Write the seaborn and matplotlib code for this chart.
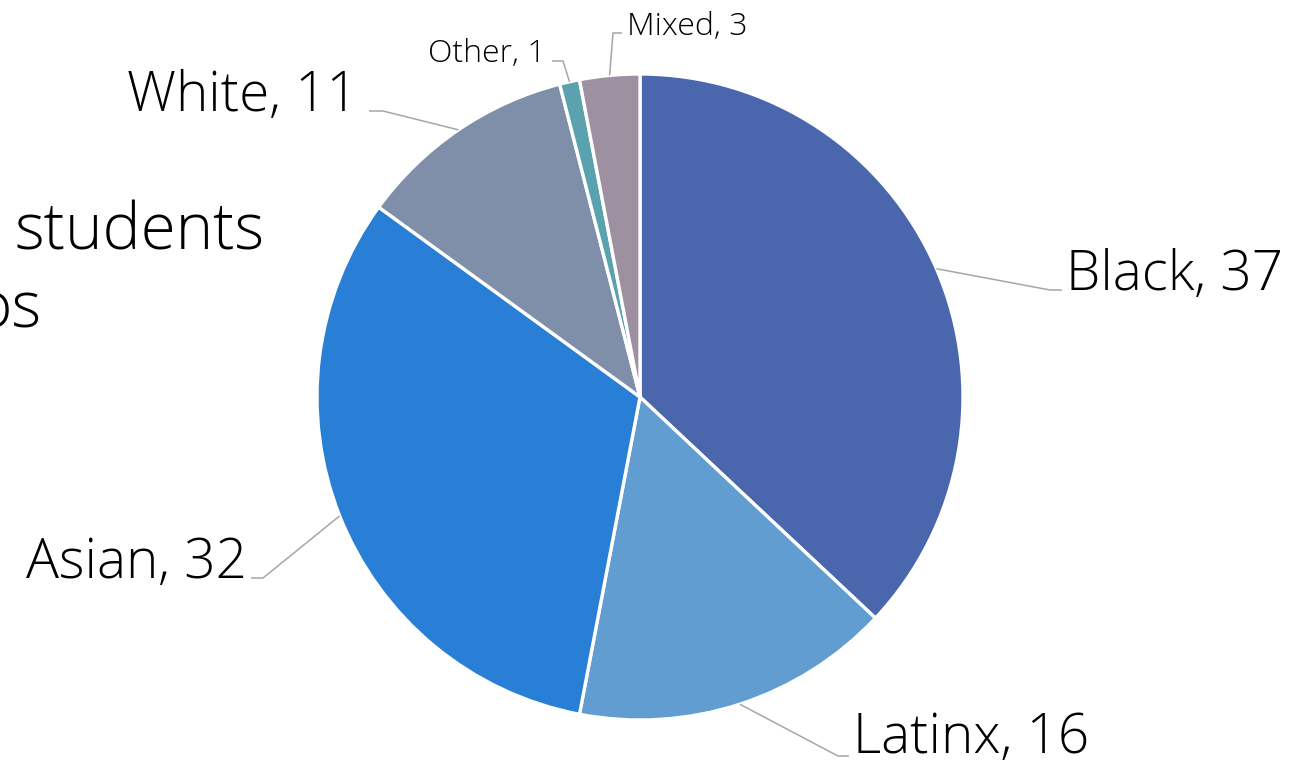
import matplotlib
matplotlib.use("Agg")
import matplotlib.pyplot as plt
import numpy as np
import seaborn as sns

# Students by ethnic group
groups = ["Black", "Latinx", "Asian", "White", "Other", "Mixed"]
counts = [37, 16, 32, 11, 1, 3]
colors = ["#4A66AC", "#629DD1", "#297FD5", "#7F8FA9", "#5AA2AE", "#9D90A0"]

sns.set_theme(style="white")
plt.rcParams["font.family"] = ["Open Sans", "DejaVu Sans"]

W, H = 1299, 764
fig = plt.figure(figsize=(W / 100, H / 100), dpi=100)
ax = fig.add_axes([0, 0, 1, 1])

cx, cy, R = 640, H - 397, 323
wedges, _ = ax.pie(counts, colors=sns.color_palette(colors), startangle=90,
                   counterclock=False, center=(cx, cy), radius=R,
                   wedgeprops=dict(edgecolor="white", linewidth=2.4),
                   frame=True)
ax.set_xlim(0, W)
ax.set_ylim(0, H)
ax.set_aspect("equal")
ax.axis("off")

# label layout: (text x, baseline y, ha, elbow x, elbow y, end x, fontsize) in pixels from top-left
layout = {
    "Black":  (1066, 290, "left", 1050, 290, 1062, 39.5),
    "Latinx": (853, 753, "left", 838, 756, 849, 39.5),
    "Asian":  (247, 578, "right", 263, 578, 251, 39.5),
    "White":  (358, 111, "right", 383, 111, 369, 39.5),
    "Other":  (546, 62, "right", 563, 61, 552, 23),
    "Mixed":  (627, 35, "left", 613, 33, 622, 23),
}

line_col = "#A6A6A6"
for w, g, n in zip(wedges, groups, counts):
    mid = np.deg2rad((w.theta1 + w.theta2) / 2)
    px, py = cx + R * np.cos(mid), cy + R * np.sin(mid)
    tx, ty, ha, ex, ey, endx, fs = layout[g]
    ax.plot([px, ex, endx], [py, H - ey, H - ey], color=line_col, lw=1.1,
            solid_capstyle="butt", zorder=1)
    ax.text(tx, H - ty, f"{g}, {n}", ha=ha, va="baseline", fontsize=fs,
            fontweight="light", color="black")

# title text running in from the left edge
ax.text(265, H - 250, "students", ha="right", va="baseline", fontsize=46,
        fontweight="light", color="black")
ax.text(41, H - 328, "os", ha="right", va="baseline", fontsize=46,
        fontweight="light", color="black")

fig.savefig("out.png", dpi=100, facecolor="white")
